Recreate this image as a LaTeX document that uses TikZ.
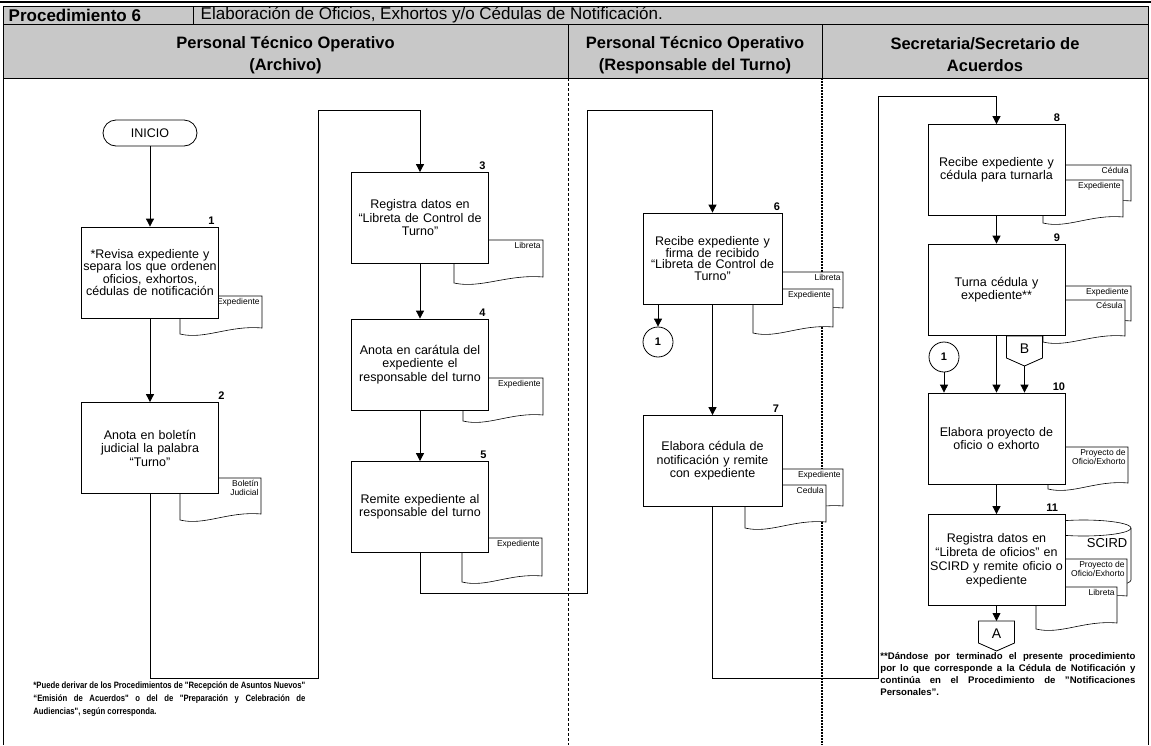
\documentclass[tikz,border=0pt]{standalone}
\usepackage{fontspec}
\setmainfont{Liberation Sans}
\newfontfamily\narrowfont[FakeStretch=0.84]{Liberation Sans}
\usetikzlibrary{arrows.meta,positioning}

\definecolor{headgray}{RGB}{200,200,200}

\tikzset{
  box/.style={draw,fill=white,minimum width=137pt,minimum height=91pt,text width=135pt,
    inner sep=1pt,align=center,font=\fontsize{12.5}{13.5}\selectfont},
  term/.style={draw,fill=white,rounded corners=13pt,minimum width=94pt,minimum height=26pt,
    font=\fontsize{12.5}{13}\selectfont},
  num/.style={anchor=south east,inner sep=1pt,font=\fontsize{11}{11}\bfseries},
  conn/.style={draw,fill=white,circle,minimum size=30pt,inner sep=0pt,font=\fontsize{11}{11}\bfseries},
  doclbl/.style={anchor=north east,inner sep=1pt,align=right,font=\fontsize{8.5}{9}\selectfont},
  head/.style={align=center,font=\fontsize{16.5}{22}\bfseries},
  note/.style={anchor=north west,inner sep=0pt,align=justify}
}

% document symbol: name, x1, y1, x2, y2, label
\newcommand{\docshape}[6]{%
  \filldraw[fill=white,line width=0.6pt] (#2,#3) -- (#4,#3) -- (#4,{#5-6})
    .. controls ({#2+0.6*(#4-#2)},{#5-9}) and ({#2+0.3*(#4-#2)},{#5+6}) .. (#2,#5) -- cycle;
  \node[doclbl] (#1) at ({#4-1},{#3+0.5}) {#6};
}
% off-page connector: name, x, top, label
\newcommand{\offpage}[4]{%
  \filldraw[fill=white] ({#2-18},#3) -- ({#2+18},#3) -- ({#2+18},{#3+22}) -- (#2,{#3+30})
    -- ({#2-18},{#3+22}) -- cycle;
  \node[font=\fontsize{14}{14}\selectfont] (#1) at (#2,{#3+12.5}) {#4};
  \coordinate (#1-top) at (#2,#3);
  \coordinate (#1-tip) at (#2,{#3+30});
}

\begin{document}
\begin{tikzpicture}[x=1pt,y=-1pt,line width=0.8pt,>={Triangle[length=8pt,width=8pt]}]
  \useasboundingbox (0,0) rectangle (1151,745);

  % header
  \fill[headgray] (3,6) rectangle (1148,78);
  \draw[line width=2.5pt] (0,2) -- (1151,2);
  \draw (3,6) rectangle (1148,24) (3,24) rectangle (1148,78);
  \draw (193,6) -- (193,24) (568,24) -- (568,78) (822,24) -- (822,78);
  \draw (3,78) -- (3,745) (1148,78) -- (1148,745);
  \draw[line width=0.6pt,dash pattern=on 3pt off 2pt] (568,78) -- (568,745);
  \draw[line width=1.4pt,dash pattern=on 2pt off 1pt] (822,78) -- (822,745);

  \node[anchor=west,font=\fontsize{17}{17}\bfseries] (proc) at (5,15.5) {Procedimiento 6};
  \node[anchor=west,font=\fontsize{17}{17}\selectfont] (title) at (197,15.5)
    {Elaboración de Oficios, Exhortos y/o Cédulas de Notificación.};
  \node[head] (h1) at (285.5,55) {Personal Técnico Operativo\\(Archivo)};
  \node[head] (h2) at (695,55) {Personal Técnico Operativo\\(Responsable del Turno)};
  \node[head] (h3) at (985,55) {Secretaria/Secretario de\\Acuerdos};

  % documents
  \docshape{d1}{180}{296}{262}{334}{Expediente}
  \docshape{d2}{180}{478}{261}{520}{Boletín\\Judicial}
  \docshape{d3}{454}{240}{543}{283}{Libreta}
  \docshape{d4}{463}{378}{543}{421}{Expediente}
  \docshape{d5}{462}{538}{542}{582}{Expediente}
  \docshape{d6a}{765}{272}{843}{314}{Libreta}
  \docshape{d6b}{753}{289}{833}{333}{Expediente}
  \docshape{d7a}{762}{469}{843}{512}{Expediente}
  \docshape{d7b}{745}{485}{826}{528}{Cedula}
  \docshape{d8a}{1052}{165}{1131}{207}{Cédula}
  \docshape{d8b}{1043}{180}{1123}{223}{Expediente}
  \docshape{d9a}{1052}{286}{1131}{327}{Expediente}
  \docshape{d9b}{1043}{300}{1125}{342}{Césula}
  \docshape{d10}{1048}{447}{1128}{489}{Proyecto de\\Oficio/Exhorto}
  \filldraw[fill=white,line width=0.6pt] (1036,528) -- (1036,580)
    arc[start angle=180,end angle=360,x radius=47.5pt,y radius=8pt] -- (1131,528)
    arc[start angle=0,end angle=180,x radius=47.5pt,y radius=8pt] -- cycle;
  \draw[line width=0.6pt] (1036,528) arc[start angle=180,end angle=360,x radius=47.5pt,y radius=8pt];
  \node[anchor=east,font=\fontsize{13}{13}\selectfont] (scird) at (1131,543) {SCIRD};
  \docshape{d11a}{1048}{559}{1127}{602}{Proyecto de\\Oficio/Exhorto}
  \docshape{d11b}{1036}{587}{1117}{629}{Libreta}

  % steps
  \node[term] (ini) at (150,133) {INICIO};
  \node[box,font=\fontsize{12.5}{12.3}\selectfont] (b1) at (150,272.5)
    {*Revisa expediente y\\separa los que ordenen\\oficios, exhortos,\\cédulas de notificación};
  \node[box] (b2) at (150,448) {Anota en boletín\\judicial la palabra\\“Turno”};
  \node[box] (b3) at (420,218) {Registra datos en\\“Libreta de Control de\\Turno”};
  \node[box] (b4) at (420,364.5) {Anota en carátula del\\expediente el\\responsable del turno};
  \node[box] (b5) at (420,507) {Remite expediente al\\responsable del turno};
  \node[box,minimum width=139pt,font=\fontsize{12.5}{11.8}\selectfont] (b6) at (712.5,258.5)
    {Recibe expediente y\\firma de recibido\\“Libreta de Control de\\Turno”};
  \node[box,minimum width=139pt] (b7) at (712.5,461) {Elabora cédula de\\notificación y remite\\con expediente};
  \node[box] (b8) at (996.5,170) {Recibe expediente y\\cédula para turnarla};
  \node[box] (b9) at (996.5,289.5) {Turna cédula y\\expediente**};
  \node[box] (b10) at (996.5,438.5) {Elabora proyecto de\\oficio o exhorto};
  \node[box,font=\fontsize{12.5}{14}\selectfont] (b11) at (996.5,560)
    {Registra datos en\\“Libreta de oficios” en\\SCIRD y remite oficio o\\expediente};

  \node[num] (n1) at ([xshift=-3pt,yshift=1pt]b1.north east) {1};
  \node[num] (n2) at ([xshift=7pt,yshift=1pt]b2.north east) {2};
  \node[num] (n3) at ([xshift=-2pt,yshift=1pt]b3.north east) {3};
  \node[num] (n4) at ([xshift=-2pt,yshift=1pt]b4.north east) {4};
  \node[num] (n5) at ([xshift=-1pt,yshift=1pt]b5.north east) {5};
  \node[num] (n6) at ([xshift=-1pt,yshift=1pt]b6.north east) {6};
  \node[num] (n7) at ([xshift=-2pt,yshift=1pt]b7.north east) {7};
  \node[num] (n8) at ([xshift=-4pt,yshift=1pt]b8.north east) {8};
  \node[num] (n9) at ([xshift=-4pt,yshift=1pt]b9.north east) {9};
  \node[num] (n10) at ([xshift=1pt,yshift=1pt]b10.north east) {10};
  \node[num] (n11) at ([xshift=-6pt,yshift=1pt]b11.north east) {11};

  \node[conn] (c1) at (658,342) {1};
  \node[conn] (c2) at (944,357) {1};
  \offpage{B}{1024.5}{336}{B}
  \offpage{A}{996.5}{621}{A}

  % connectors
  \coordinate (k1) at (318,678); \coordinate (k2) at (318,110);
  \coordinate (k3) at (587,593); \coordinate (k4) at (587,110);
  \coordinate (k5) at (878,678); \coordinate (k6) at (878,96);

  \path[->] (ini) edge (b1)
            (b1) edge (b2)
            (b3) edge (b4)
            (b4) edge (b5)
            (b6) edge (b7)
            (b8) edge (b9)
            (b9) edge (b10)
            (b10) edge (b11);
  \draw[->] (b2.south) |- (k1) -- (k2) -| (b3.north);
  \draw[->] (b5.south) |- (k3) -- (k4) -| (b6.north);
  \draw[->] (b7.south) |- (k5) -- (k6) -| (b8.north);
  \draw[->] (c1 |- b6.south) -- (c1);
  \draw[->] (c2) -- (c2 |- b10.north);
  \draw[->] (B-tip) -- (B-tip |- b10.north);
  \draw[->] (b11.south) -- (A-top);

  % notes
  \node[note,text width=272pt,font=\narrowfont\fontsize{9.2}{13}\bfseries] (nota1) at (33,681)
    {*Puede derivar de los Procedimientos de "Recepción de Asuntos Nuevos"\linebreak
     “Emisión de Acuerdos" o del de "Preparación y Celebración de\linebreak
     Audiencias", según corresponda.};
  \node[note,text width=255pt,font=\fontsize{9.6}{12}\bfseries] (nota2) at (880,652)
    {**Dándose por terminado el presente procedimiento\linebreak
     por lo que corresponde a la Cédula de Notificación y\linebreak
     continúa en el Procedimiento de "Notificaciones\linebreak
     Personales".};
\end{tikzpicture}
\end{document}
